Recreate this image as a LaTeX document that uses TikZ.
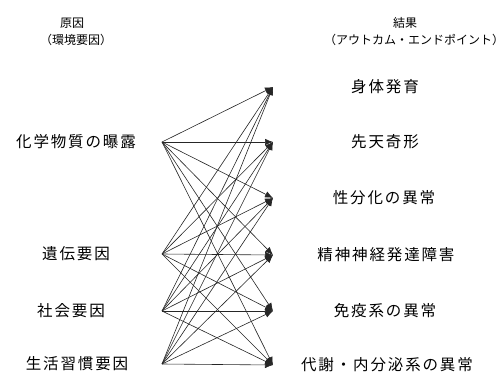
\documentclass[tikz,border=0pt]{standalone}
\usepackage{fontspec}
\newfontfamily\jpfont[LetterSpace=12]{Noto Sans CJK JP}
\newfontfamily\jphead{Noto Sans CJK JP}
\usetikzlibrary{arrows.meta}
\begin{document}
\begin{tikzpicture}[x=1pt,y=-1pt,
  lbl/.style={inner sep=0pt,font=\jpfont\fontsize{15.5}{16}\selectfont},
  hd/.style={inner sep=0pt,font=\jphead\fontsize{12}{13}\selectfont},
  link/.style={line width=0.6pt,-{Latex[length=8pt,width=6.5pt]},draw=black!85}]
\useasboundingbox (0,0) rectangle (503,379);
% left points
\coordinate (L1) at (162,142);
\coordinate (L2) at (162,254);
\coordinate (L3) at (162,311);
\coordinate (L4) at (162,364);
% right points
\coordinate (R1) at (273,87);
\coordinate (R2) at (273,142);
\coordinate (R3) at (273,198);
\coordinate (R4) at (273,255);
\coordinate (R5) at (273,311);
\coordinate (R6) at (273,365);
% headers
\node[hd] (h1) at (72,23) {原因};
\node[hd] (h2) at (76,40) {（環境要因）};
\node[hd] (h3) at (405,23) {結果};
\node[hd] (h4) at (414,40) {（アウトカム・エンドポイント）};
% left labels
\node[lbl] (c1) at (76,142) {化学物質の曝露};
\node[lbl] (c2) at (76,254) {遺伝要因};
\node[lbl] (c3) at (71,311) {社会要因};
\node[lbl] (c4) at (77,364) {生活習慣要因};
% right labels
\node[lbl] (o1) at (385,87) {身体発育};
\node[lbl] (o2) at (385,142) {先天奇形};
\node[lbl] (o3) at (384,198) {性分化の異常};
\node[lbl] (o4) at (386,255) {精神神経発達障害};
\node[lbl] (o5) at (385,311) {免疫系の異常};
\node[lbl] (o6) at (387,365) {代謝・内分泌系の異常};
% links
\foreach \i in {1,...,4}{
  \foreach \j in {1,...,6}{
    \draw[link] (L\i) -- (R\j);
  }
}
\end{tikzpicture}
\end{document}
